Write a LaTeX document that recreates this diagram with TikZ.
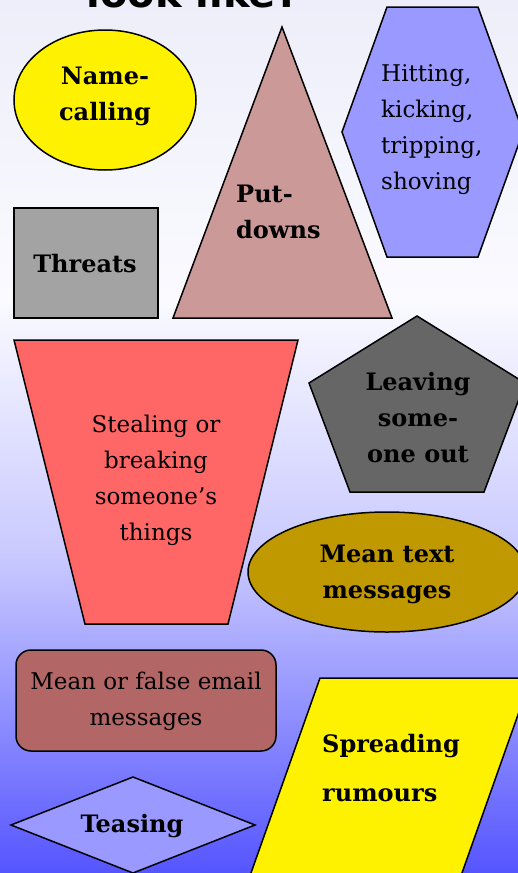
\documentclass[tikz,border=0pt]{standalone}
\usepackage{fontspec}
\setmainfont{DejaVu Serif}
\newfontfamily\titlefont{DejaVu Sans}
\usepackage{tikz}

\definecolor{bgtop}{RGB}{238,238,250}
\definecolor{bgup}{RGB}{250,250,255}
\definecolor{bglow}{RGB}{200,200,255}
\definecolor{bgbot}{RGB}{85,85,255}
\definecolor{putdown}{RGB}{204,153,153}
\definecolor{lilac}{RGB}{153,153,255}
\definecolor{stone}{RGB}{163,163,163}
\definecolor{salmon}{RGB}{255,102,102}
\definecolor{slate}{RGB}{102,102,102}
\definecolor{gold}{RGB}{192,153,0}
\definecolor{brick}{RGB}{179,102,102}

\begin{document}
\begin{tikzpicture}[x=1pt,y=-1pt,
    shp/.style={draw=black, line width=1.5pt},
    txt/.style={inner sep=0pt, align=center, font=\fontsize{23}{36}\selectfont},
    btxt/.style={txt, font=\fontsize{24}{36}\selectfont\bfseries}]
  \clip (0,0) rectangle (518,873);
  % background
  \shade[top color=bgtop, bottom color=bgup] (0,0) rectangle (518,300);
  \shade[top color=bgup, bottom color=bglow] (0,300) rectangle (518,560);
  \shade[top color=bglow, bottom color=bgbot] (0,560) rectangle (518,873);
  \node (title) at (193,7) [anchor=base, font=\titlefont\bfseries\fontsize{40}{40}\selectfont] {look like?};

  % shapes
  \draw[shp, fill=yellow] (105,100) ellipse [x radius=91, y radius=70];
  \draw[shp, fill=putdown] (282,27) -- (392,318) -- (173,318) -- cycle;
  \draw[shp, fill=lilac] (387,7) -- (478,7) -- (523,132) -- (478,257) -- (387,257) -- (342,132) -- cycle;
  \draw[draw=black, line width=2.5pt, fill=stone] (14,208) rectangle (158,318);
  \draw[shp, fill=salmon] (14,340) -- (298,340) -- (228,624) -- (85,624) -- cycle;
  \draw[shp, fill=slate] (417,316) -- (525,383) -- (484,492) -- (350,492) -- (309,383) -- cycle;
  \draw[shp, fill=gold] (387,572) ellipse [x radius=139, y radius=60];
  \draw[shp, fill=brick, rounded corners=15pt] (16,650) rectangle (276,751);
  \draw[shp, fill=yellow] (320,678) -- (531,678) -- (459.5,880) -- (248.5,880) -- cycle;
  \draw[shp, fill=lilac] (11,825) -- (133,777) -- (255,825) -- (133,873) -- cycle;

  % labels
  \node (name) at (105,96) [btxt] {Name-\\calling};
  \node (put) at (236,212) [btxt, anchor=west, align=left] {Put-\\downs};
  \node (hit) at (381,130) [txt, anchor=west, align=left] {Hitting,\\kicking,\\tripping,\\shoving};
  \node (threat) at (85,272) [btxt, anchor=base] {Threats};
  \node (steal) at (156,480) [txt] {Stealing or\\breaking\\someone’s\\things};
  \node (leave) at (418,418) [btxt] {Leaving\\some-\\one out};
  \node (text) at (387,574) [btxt] {Mean text\\messages};
  \node (email) at (146,701) [txt] {Mean or false email\\messages};
  \node (rumour) at (322,768.5) [btxt, anchor=west, align=left,
    font=\fontsize{24}{49}\selectfont\bfseries] {Spreading\\rumours};
  \node (tease) at (132,832) [btxt, anchor=base] {Teasing};
\end{tikzpicture}
\end{document}
